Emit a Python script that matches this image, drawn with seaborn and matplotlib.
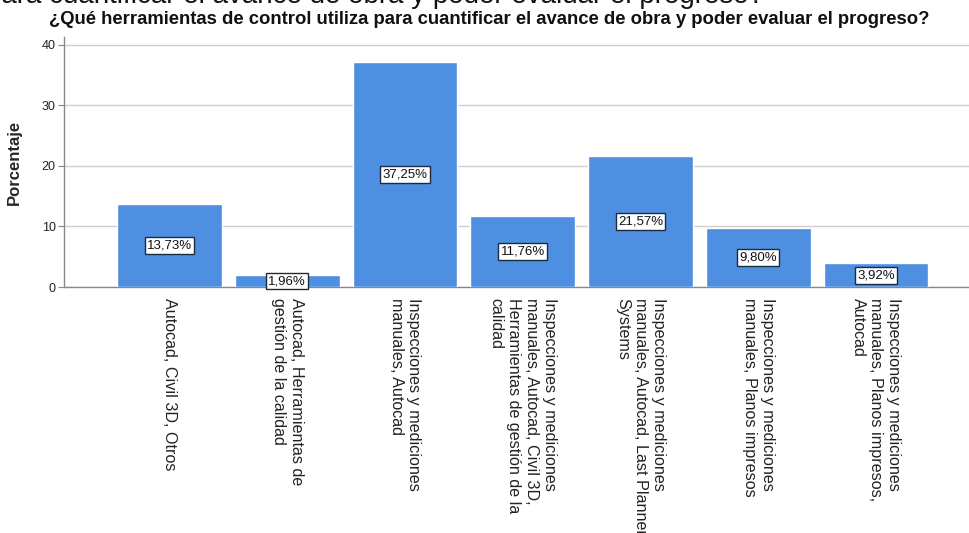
import matplotlib
matplotlib.use("Agg")
import matplotlib.pyplot as plt
import seaborn as sns
import pandas as pd

categories = [
    "Autocad, Civil 3D, Otros",
    "Autocad, Herramientas de gestión de la calidad",
    "Inspecciones y mediciones manuales, Autocad",
    "Inspecciones y mediciones manuales, Autocad, Civil 3D, Herramientas de gestión de la calidad",
    "Inspecciones y mediciones manuales, Autocad, Last Planner Systems",
    "Inspecciones y mediciones manuales, Planos impresos",
    "Inspecciones y mediciones manuales, Planos impresos, Autocad",
]
tick_labels = [
    "Autocad, Civil 3D, Otros",
    "Autocad, Herramientas de\ngestión de la calidad",
    "Inspecciones y mediciones\nmanuales, Autocad",
    "Inspecciones y mediciones\nmanuales, Autocad, Civil 3D,\nHerramientas de gestión de la\ncalidad",
    "Inspecciones y mediciones\nmanuales, Autocad, Last Planner\nSystems",
    "Inspecciones y mediciones\nmanuales, Planos impresos",
    "Inspecciones y mediciones\nmanuales, Planos impresos,\nAutocad",
]
values = [13.73, 1.96, 37.25, 11.76, 21.57, 9.80, 3.92]
y_ticks = [0, 10, 20, 30, 40]

title = "¿Qué herramientas de control utiliza para cuantificar el avance de obra y poder evaluar el progreso?"
top_text = "para cuantificar el avance de obra y poder evaluar el progreso?"

sns.set_theme(style="white")
plt.rcParams["font.family"] = ["Liberation Sans", "DejaVu Sans"]

W, H = 969, 533
fig = plt.figure(figsize=(W / 100, H / 100), dpi=100)
ax = fig.add_axes([64 / W, (H - 287) / H, (W - 64) / W, (287 - 37) / H])

df = pd.DataFrame({"cat": categories, "val": values})
sns.barplot(data=df, x="cat", y="val", color="#4f8fe2", saturation=1,
            width=0.89, ax=ax, zorder=3)

ax.set_xlim(-0.896, 6.79)
ax.set_ylim(0, 41.3)
ax.set_yticks(y_ticks)
ax.set_yticklabels([str(t) for t in y_ticks], fontsize=9, color="#222222")
ax.yaxis.grid(True, color="#d0d0d0", linewidth=1, zorder=0)
ax.set_axisbelow(True)
ax.tick_params(axis="y", which="both", left=True, length=4, width=0.8,
               color="#888888", pad=2)
ax.tick_params(axis="x", bottom=False, pad=2)
ax.set_xticks(range(len(categories)))
ax.set_xticklabels(tick_labels, rotation=270, ha="center", va="top",
                   multialignment="left", fontsize=11.6, linespacing=1.22,
                   color="#222222")
ax.set_xlabel("")
ax.set_ylabel("Porcentaje", fontsize=12, fontweight="bold", labelpad=14)

for s in ["top", "right"]:
    ax.spines[s].set_visible(False)
for s in ["left", "bottom"]:
    ax.spines[s].set_color("#888888")
    ax.spines[s].set_linewidth(1)

for i, v in enumerate(values):
    ax.text(i, v / 2, f"{v:.2f}%".replace(".", ","), ha="center", va="center",
            fontsize=9.5, color="#111111", zorder=5,
            bbox=dict(boxstyle="square,pad=0.18", facecolor="white",
                      edgecolor="#1a2a40", linewidth=1))

fig.text(489 / W, 1 - 24 / H, title, ha="center", va="baseline",
         fontsize=13.3, fontweight="bold", color="#111111")
fig.text(-14 / W, 1 - 3 / H, top_text, ha="left", va="baseline",
         fontsize=20, color="#111111")

fig.savefig("out.png", dpi=100)
